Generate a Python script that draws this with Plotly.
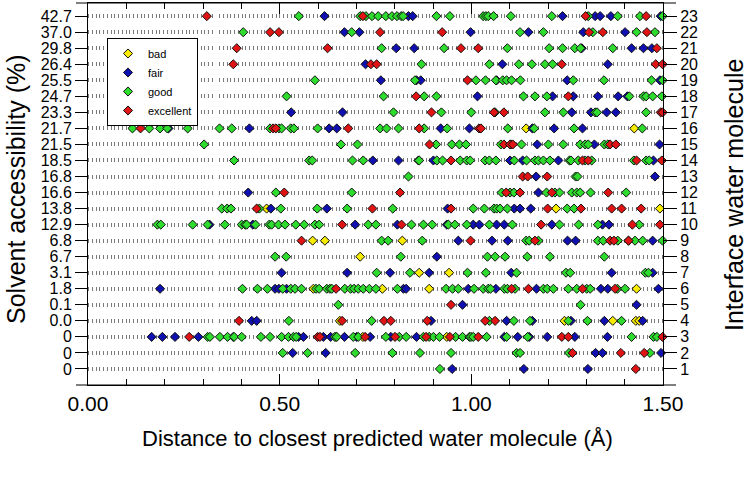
import plotly.graph_objects as go

# ---------------- data ----------------
row_numbers = list(range(1, 24))
accessibility_labels = ["0", "0", "0", "0.0", "0.1", "1.8", "3.1", "6.7", "6.8", "12.9",
                        "13.8", "16.6", "16.8", "18.5", "21.5", "21.7", "23.3", "24.7",
                        "25.5", "26.4", "29.8", "37.0", "42.7"]
x_tick_vals = [0.0, 0.5, 1.0, 1.5]
x_tick_text = ["0.00", "0.50", "1.00", "1.50"]

categories = ["bad", "fair", "good", "excellent"]

# distance to closest predicted water, per interface water molecule (row)
bad = {
    16: [1.143, 1.425],
    11: [0.466, 1.221, 1.492],
    9: [0.586, 0.618, 0.82, 1.41],
    8: [0.71],
    7: [0.864, 0.942],
    6: [0.588, 0.768, 0.89, 1.431],
    4: [0.657, 1.243, 1.369, 1.429, 1.438],
    3: [0.647, 0.717, 0.936],
}

fair = {
    23: [0.617, 0.836, 0.847, 1.238, 1.323, 1.336, 1.364, 1.494],
    22: [0.669, 0.708, 0.998, 1.149, 1.292, 1.401],
    21: [0.804, 0.851, 1.288, 1.418, 1.449, 1.471],
    20: [0.724, 1.081, 1.356],
    19: [0.764, 0.857, 0.868, 1.066, 1.25, 1.492],
    18: [1.016, 1.212, 1.266, 1.33, 1.383, 1.407],
    17: [0.53, 0.664, 1.262, 1.312, 1.353, 1.377],
    16: [0.21, 0.421, 0.629, 0.649, 0.92, 0.995, 1.159, 1.216, 1.29],
    15: [1.172, 1.321, 1.491],
    14: [0.743, 0.81, 0.901, 1.101, 1.134, 1.227, 1.475],
    13: [1.169, 1.479],
    12: [0.418, 1.175],
    11: [0.477, 0.623, 0.938, 1.112, 1.127, 1.155],
    10: [0.317, 0.43, 0.697, 0.807, 0.936, 1.005, 1.021, 1.066, 1.086, 1.21, 1.342, 1.359],
    9: [0.966, 1.054, 1.095, 1.251, 1.272, 1.473],
    8: [0.91],
    7: [0.505, 0.676, 0.788, 0.89, 1.104, 1.366, 1.473],
    6: [0.188, 0.488, 0.498, 0.518, 0.823, 0.83, 0.992, 1.064, 1.17, 1.338, 1.356, 1.488],
    5: [0.977, 1.431],
    4: [0.427, 0.44, 0.895, 1.092, 1.159, 1.26, 1.347, 1.447],
    3: [0.166, 0.194, 0.227, 0.288, 0.379, 0.549, 0.562, 0.614, 0.633, 0.669, 0.701, 0.736,
        0.79, 0.857, 1.086, 1.121, 1.151, 1.198, 1.27, 1.355],
    2: [0.534, 0.62, 1.324, 1.342, 1.495],
    1: [0.95, 1.137, 1.304],
}

good = {
    23: [0.55, 0.71, 0.725, 0.741, 0.757, 0.777, 0.793, 0.806, 0.817, 0.822, 0.909, 0.944,
         1.031, 1.038, 1.044, 1.058, 1.103, 1.21, 1.305, 1.382, 1.44, 1.499],
    22: [0.405, 0.688, 1.127, 1.188, 1.317, 1.431, 1.479],
    21: [0.766, 0.929, 1.094, 1.203, 1.238, 1.27, 1.285, 1.369],
    20: [0.87, 1.047, 1.124, 1.158, 1.192, 1.212],
    19: [0.592, 0.853, 1.012, 1.037, 1.064, 1.082, 1.092, 1.105, 1.128, 1.266, 1.346, 1.47, 1.499],
    18: [0.518, 0.771, 0.877, 0.909, 1.136, 1.166, 1.197, 1.412, 1.449, 1.456, 1.473, 1.497],
    17: [0.797, 0.922, 1.0, 1.062, 1.192, 1.24, 1.323, 1.328, 1.456],
    16: [0.116, 0.16, 0.188, 0.207, 0.26, 0.343, 0.375, 0.475, 0.498, 0.505, 0.529, 0.537,
         0.599, 0.762, 0.779, 0.81, 0.877, 0.937, 1.095, 1.164, 1.268, 1.446],
    15: [0.303, 0.66, 0.703, 0.908, 0.949, 0.969, 0.986, 1.077, 1.103, 1.131, 1.201, 1.24,
         1.284, 1.297, 1.305, 1.347, 1.356],
    14: [0.381, 0.577, 0.585, 0.69, 0.718, 0.862, 0.864, 0.91, 0.925, 0.971, 0.988, 0.997,
         1.036, 1.047, 1.064, 1.112, 1.144, 1.166, 1.175, 1.188, 1.205, 1.256, 1.26, 1.279,
         1.297, 1.314, 1.424, 1.456, 1.464],
    13: [0.836, 1.272, 1.277],
    12: [0.49, 0.688, 1.079, 1.101, 1.111, 1.196, 1.218, 1.23, 1.262, 1.275, 1.284, 1.311, 1.404],
    11: [0.349, 0.363, 0.373, 0.447, 0.503, 0.598, 0.676, 0.795, 1.005, 1.034, 1.059, 1.066,
         1.075, 1.094, 1.25, 1.268],
    10: [0.181, 0.19, 0.273, 0.312, 0.357, 0.401, 0.41, 0.414, 0.437, 0.473, 0.479, 0.497,
         0.514, 0.542, 0.564, 0.592, 0.603, 0.731, 0.751, 0.844, 0.875, 0.898, 0.94, 0.957,
         0.988, 1.047, 1.107, 1.23, 1.28, 1.33, 1.438],
    9: [0.766, 0.783, 0.872, 1.143, 1.151, 1.175, 1.33, 1.344, 1.382, 1.427, 1.447, 1.499],
    8: [0.488, 0.517, 0.816, 1.042, 1.062, 1.088, 1.146, 1.205, 1.347],
    7: [0.753, 0.84, 0.99, 1.038, 1.118, 1.247, 1.258, 1.454, 1.462],
    6: [0.403, 0.442, 0.468, 0.508, 0.529, 0.54, 0.557, 0.595, 0.603, 0.623, 0.631, 0.636,
        0.67, 0.685, 0.694, 0.705, 0.718, 0.734, 0.751, 0.807, 0.934, 0.951, 0.966, 1.007,
        1.031, 1.044, 1.05, 1.086, 1.094, 1.114, 1.188, 1.198, 1.214, 1.253, 1.275, 1.301,
        1.31, 1.381, 1.401],
    5: [0.653, 1.285],
    4: [0.524, 0.74, 1.047, 1.111, 1.153, 1.253, 1.303, 1.392],
    3: [0.312, 0.318, 0.344, 0.364, 0.381, 0.401, 0.451, 0.475, 0.505, 0.523, 0.536, 0.543,
        0.644, 0.649, 0.692, 0.705, 0.777, 0.812, 0.83, 0.875, 0.89, 0.901, 0.917, 0.959,
        0.977, 0.995, 0.999, 1.005, 1.04, 1.092, 1.147, 1.418, 1.475, 1.484],
    2: [0.508, 0.573, 0.697, 0.794, 0.866, 0.947, 1.118, 1.127, 1.255, 1.466],
    1: [0.918],
}

excellent = {
    23: [0.31, 0.717, 1.298, 1.456],
    22: [0.475, 0.498, 0.762, 0.924, 1.307, 1.343, 1.458],
    21: [0.388, 0.625, 0.973, 1.018, 1.484],
    20: [0.379, 0.738, 0.753, 1.236, 1.481, 1.499],
    19: [0.99],
    18: [0.856, 1.253],
    17: [0.896, 1.059, 1.085, 1.494, 1.499],
    16: [0.137, 0.483, 0.49, 0.679, 0.864, 1.02, 1.025],
    15: [0.891, 1.085, 1.101, 1.108, 1.362, 1.377],
    14: [0.947, 1.29, 1.305, 1.431, 1.497],
    13: [1.134, 1.147, 1.198],
    12: [0.512, 0.814, 1.091, 1.127, 1.21, 1.357],
    11: [0.44, 0.742, 0.947, 1.199, 1.286, 1.366, 1.392, 1.443],
    10: [0.663, 0.818, 1.182, 1.42, 1.492],
    9: [0.557, 0.998, 1.166, 1.362, 1.372, 1.41],
    6: [0.647, 1.105, 1.149, 1.29, 1.375],
    5: [0.947],
    4: [0.394, 0.663, 0.772, 0.79, 0.885, 1.036, 1.062],
    3: [0.264, 0.599, 0.605, 0.723, 0.801, 0.882, 0.944, 1.018, 1.236, 1.253, 1.499],
    2: [1.264, 1.39, 1.451],
    1: [1.429],
}

# ---------------- styling ----------------
colors = ["#f7ec00", "#1010b0", "#2ddc2d", "#e01414"]
FONT = "Liberation Sans, Arial, sans-serif"
W, H = 750, 477
L, R, T, B = 88, 87, 3, 92
PW, PH = W - L - R, H - T - B
Y_TOP = 23.82

fig = go.Figure()
for name, data, color in zip(categories, [bad, fair, good, excellent], colors):
    xs, ys = [], []
    for row, dists in data.items():
        xs.extend(dists)
        ys.extend([row] * len(dists))
    fig.add_trace(go.Scatter(
        x=xs, y=ys, mode="markers", name=name, cliponaxis=False,
        marker=dict(symbol="diamond", size=7, color=color,
                    line=dict(color="#111111", width=1)),
    ))

# dummy trace so the right axis is rendered
fig.add_trace(go.Scatter(x=[None], y=[None], yaxis="y2", showlegend=False,
                         hoverinfo="skip"))

fig.update_layout(
    width=W, height=H, autosize=False,
    margin=dict(l=L, r=R, t=T, b=B),
    paper_bgcolor="white", plot_bgcolor="white",
    font=dict(family=FONT, color="black"),
    showlegend=True,
    legend=dict(x=(107 - L) / PW, y=(T + PH - 38) / PH, xanchor="left", yanchor="top",
                bgcolor="white", bordercolor="black", borderwidth=1,
                font=dict(size=11, family=FONT), tracegroupgap=0,
                itemsizing="trace"),
    xaxis=dict(range=[0, 1.5], tickvals=x_tick_vals, ticktext=x_tick_text,
               ticks="inside", ticklen=11, tickwidth=1, tickcolor="black",
               showline=True, linecolor="black", linewidth=1, mirror="ticks",
               showgrid=False, zeroline=False,
               tickfont=dict(size=21, family=FONT),
               minor=dict(dtick=0.1, tick0=0, ticks="inside", ticklen=6,
                          tickcolor="black", tickwidth=1, showgrid=False)),
    yaxis=dict(range=[0, Y_TOP], tickvals=row_numbers, ticktext=accessibility_labels,
               ticks="outside", ticklen=12, tickwidth=1, tickcolor="black",
               showline=True, linecolor="black", linewidth=1,
               showgrid=True, gridcolor="#7a7a7a", gridwidth=4, griddash="1px,2.75px",
               zeroline=False, tickfont=dict(size=16, family=FONT)),
    yaxis2=dict(range=[0, Y_TOP], overlaying="y", side="right",
                tickvals=row_numbers, ticktext=[str(r) for r in row_numbers],
                ticks="outside", ticklen=13, tickwidth=1, tickcolor="black",
                showline=True, linecolor="black", linewidth=1,
                showgrid=False, zeroline=False, tickfont=dict(size=16, family=FONT)),
)

# horizontal frame lines extend slightly beyond the plot area
ext_l = 12 / PW
ext_r = 13 / PW
for yy in (0, 1):
    fig.add_shape(type="line", xref="paper", yref="paper",
                  x0=-ext_l, x1=1 + ext_r, y0=yy, y1=yy,
                  line=dict(color="black", width=1), layer="above")

# axis titles
fig.add_annotation(text="Distance to closest predicted water molecule (Å)",
                   xref="paper", yref="paper", x=(377 - L) / PW, y=(T + PH - 438) / PH,
                   showarrow=False, xanchor="center", yanchor="middle",
                   font=dict(size=22, family=FONT))
fig.add_annotation(text="Solvent accessibility (%)", textangle=-90,
                   xref="paper", yref="paper", x=(16 - L) / PW, y=(T + PH - 189) / PH,
                   showarrow=False, xanchor="center", yanchor="middle",
                   font=dict(size=25, family=FONT))
fig.add_annotation(text="Interface water molecule", textangle=-90,
                   xref="paper", yref="paper", x=(734 - L) / PW, y=(T + PH - 195) / PH,
                   showarrow=False, xanchor="center", yanchor="middle",
                   font=dict(size=25, family=FONT))

fig.write_html("out.html",
               config={"displayModeBar": False, "responsive": False},
               post_script="document.body.style.margin='0';")
